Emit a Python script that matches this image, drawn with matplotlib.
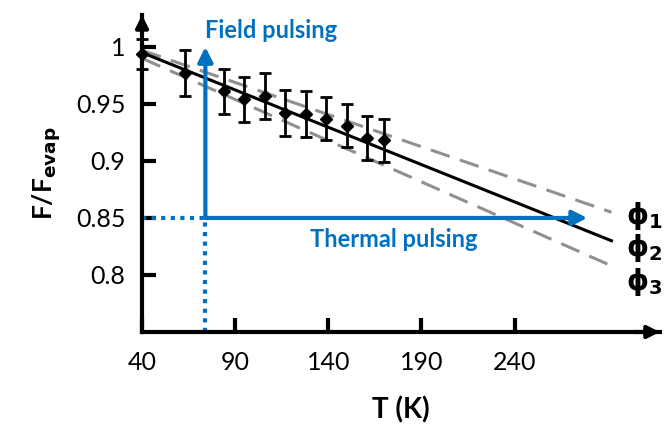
import matplotlib
matplotlib.use("Agg")
from matplotlib import pyplot as plt

plt.rcParams['font.family'] = ['Lato', 'DejaVu Sans']

# measured points
temps = [40, 63, 84, 95, 106, 117, 128, 139, 150, 161, 170]
ratio = [0.994, 0.977, 0.961, 0.954, 0.957, 0.942, 0.941, 0.937, 0.931, 0.920, 0.918]
errs = [0.013, 0.020, 0.020, 0.020, 0.020, 0.020, 0.020, 0.019, 0.019, 0.019, 0.019]

# fitted lines (end points)
line_t = [40, 292]
phi2 = [0.995, 0.830]
phi1 = [0.997, 0.855]
phi3 = [0.990, 0.808]

xticks = [40, 90, 140, 190, 240]
yticks = [0.8, 0.85, 0.9, 0.95, 1.0]
ylabels = ['0.8', '0.85', '0.9', '0.95', '1']

pulse_t = 74
pulse_f = 0.85
field_top = 1.0
thermal_end = 279

blue = '#0070C0'

fig = plt.figure(figsize=(6.64, 4.28), dpi=100)
ax = fig.add_axes([0.2139, 0.2243, 0.78, 0.7407])
ax.set_xlim(40, 318)
ax.set_ylim(0.75, 1.028)

ax.plot(line_t, phi1, color='#909090', lw=2.2, dashes=(6.5, 3.5))
ax.plot(line_t, phi3, color='#909090', lw=2.2, dashes=(6.5, 3.5))
ax.plot(line_t, phi2, color='black', lw=2.2)
ax.errorbar(temps, ratio, yerr=errs, fmt='D', color='black', ms=6,
            elinewidth=2, capsize=4.5, capthick=2, clip_on=False, zorder=5)

# pulsing arrows
ax.plot([pulse_t, pulse_t], [0.75, pulse_f], color=blue, lw=3, ls=(0, (1, 1.3)), clip_on=False)
ax.plot([40, pulse_t], [pulse_f, pulse_f], color=blue, lw=3, ls=(0, (1, 1.3)), clip_on=False)
ax.annotate('', xy=(pulse_t, field_top), xytext=(pulse_t, pulse_f),
            arrowprops=dict(arrowstyle='-|>', color=blue, lw=3, mutation_scale=22,
                            shrinkA=0, shrinkB=0))
ax.annotate('', xy=(thermal_end, pulse_f), xytext=(pulse_t, pulse_f),
            arrowprops=dict(arrowstyle='-|>', color=blue, lw=3, mutation_scale=22,
                            shrinkA=0, shrinkB=0))
ax.text(pulse_t, 1.014, 'Field pulsing', color=blue, fontsize=17, fontweight='bold',
        ha='left', va='center')
ax.text(130, 0.8315, 'Thermal pulsing', color=blue, fontsize=17, fontweight='bold',
        ha='left', va='center')

ax.text(300, 0.852, r'$\mathbf{\phi}_\mathbf{1}$', fontsize=20, ha='left', va='center')
ax.text(300, 0.824, r'$\mathbf{\phi}_\mathbf{2}$', fontsize=20, ha='left', va='center')
ax.text(300, 0.794, r'$\mathbf{\phi}_\mathbf{3}$', fontsize=20, ha='left', va='center')

for s in ['top', 'right']:
    ax.spines[s].set_visible(False)
for s in ['left', 'bottom']:
    ax.spines[s].set_linewidth(3)
ax.annotate('', xy=(0, 1.0), xytext=(0, 0.95), xycoords='axes fraction',
            arrowprops=dict(arrowstyle='-|>', color='black', lw=3, mutation_scale=18,
                            shrinkA=0, shrinkB=0))
ax.annotate('', xy=(1.0, 0), xytext=(0.95, 0), xycoords='axes fraction',
            arrowprops=dict(arrowstyle='-|>', color='black', lw=3, mutation_scale=18,
                            shrinkA=0, shrinkB=0))

ax.set_xticks(xticks)
ax.set_yticks(yticks)
ax.set_yticklabels(ylabels)
ax.tick_params(direction='in', length=10, width=3, labelsize=18)
ax.tick_params(axis='x', pad=14)
ax.tick_params(axis='y', pad=12)

ax.set_xlabel('T (K)', fontsize=20, fontweight='bold', labelpad=16)
ax.set_ylabel(r'F/F$_{\mathbf{evap}}$', fontsize=19, fontweight='bold', labelpad=9)

fig.savefig('out.png', dpi=100)
